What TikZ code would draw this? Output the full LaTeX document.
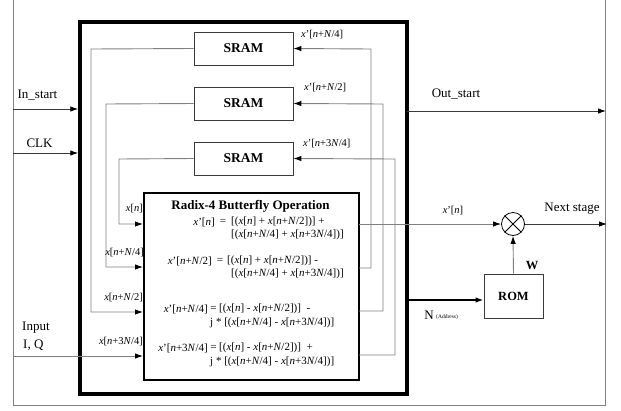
\documentclass[tikz,border=0pt]{standalone}
\usepackage{fontspec}
\setmainfont{Liberation Serif}
\usetikzlibrary{arrows.meta}
\definecolor{lg}{HTML}{808080}
\definecolor{dg}{HTML}{3A3A3A}
\newcommand\iv[1]{\textit{#1}}
\newcommand\myXn{\iv{x}[\iv{n}]}
\newcommand\myXq{\iv{x}[\iv{n}+\iv{N}/4]}
\newcommand\myXh{\iv{x}[\iv{n}+\iv{N}/2]}
\newcommand\myXt{\iv{x}[\iv{n}+3\iv{N}/4]}
\begin{document}
\begin{tikzpicture}[x=1pt,y=-1pt,
  gline/.style={draw=lg,line width=0.9pt},
  dline/.style={draw=dg,line width=0.9pt},
  tip/.style={-{Latex[length=8pt,width=5.5pt,color=black]}},
  srambox/.style={draw=dg,line width=0.8pt,fill=white,minimum width=99pt,minimum height=33pt,inner sep=0pt,font=\fontsize{13.5}{15}\selectfont\bfseries},
  lbl/.style={inner sep=0pt,font=\fontsize{13}{15}\selectfont},
  slbl/.style={inner sep=0pt,font=\fontsize{10.5}{12}\selectfont},
  eq/.style={inner sep=0pt,font=\fontsize{11}{13}\selectfont}]
\useasboundingbox (0,0) rectangle (621,410);
% outer frame
\draw[lg,line width=0.9pt] (13,0) -- (13,405) -- (605,405) -- (605,0);
% main thick box
\node[draw=black,line width=3.5pt,minimum width=327pt,minimum height=372pt,inner sep=0pt] (main) at (243.5,208) {};
% SRAMs
\node[srambox] (s1) at (243.5,48.5) {SRAM};
\node[srambox] (s2) at (243.5,103.5) {SRAM};
\node[srambox] (s3) at (243.5,158.5) {SRAM};
% butterfly box
\node[draw=black,line width=2pt,fill=white,minimum width=215pt,minimum height=187pt,inner sep=0pt] (bf) at (251.5,286.5) {};
% ROM and multiplier
\node[draw=dg,line width=0.8pt,minimum width=59pt,minimum height=44pt,inner sep=0pt,font=\fontsize{12.5}{14}\selectfont\bfseries] (rom) at (513.5,296) {ROM};
\node[draw=black,line width=0.8pt,circle,minimum size=23pt,inner sep=0pt] (mul) at (513,224) {};
\draw[black,line width=0.8pt] (mul.north west) -- (mul.south east) (mul.north east) -- (mul.south west);
% coordinates
\coordinate (a1) at (91,49);  \coordinate (a2) at (91,312);
\coordinate (b1) at (106,104); \coordinate (b2) at (106,267);
\coordinate (c1) at (119,159); \coordinate (c2) at (119,224);
\coordinate (in0) at (13,356);
\coordinate (o2a) at (359,268); \coordinate (o2b) at (371,268); \coordinate (o2c) at (371,49);
\coordinate (o3a) at (359,311); \coordinate (o3b) at (383,311); \coordinate (o3c) at (383,104);
\coordinate (o4a) at (359,355); \coordinate (o4b) at (395,355); \coordinate (o4c) at (395,159);
\coordinate (o1a) at (359,224);
\coordinate (ins0) at (13,109); \coordinate (clk0) at (13,153);
\coordinate (os0) at (407,111); \coordinate (os1) at (606,111);
\coordinate (ns1) at (607,224);
\coordinate (nn0) at (407,300);
% feedback into butterfly
\draw[gline,tip] (s1.west) -- (a1) -- (a2) -- (a2 -| bf.west);
\draw[gline,tip] (s2.west) -- (b1) -- (b2) -- (b2 -| bf.west);
\draw[gline,tip] (s3.west) -- (c1) -- (c2) -- (c2 -| bf.west);
\draw[gline,tip] (in0) -- (in0 -| bf.west);
% outputs back to SRAMs
\draw[gline,tip] (o2a) -- (o2b) -- (o2c) -- (s1.east);
\draw[gline,tip] (o3a) -- (o3b) -- (o3c) -- (s2.east);
\draw[gline,tip] (o4a) -- (o4b) -- (o4c) -- (s3.east);
\draw[gline,tip] (o1a) -- (mul.west);
\draw[dline,tip] (mul.east) -- (ns1);
\draw[gline,tip] (rom.north) -- (mul.south);
\draw[black,line width=1.8pt,tip] (nn0) -- (nn0 -| rom.west);
% control lines
\draw[dline,tip] (ins0) -- (ins0 -| main.west);
\draw[dline,tip] (clk0) -- (clk0 -| main.west);
\draw[dline,tip] (os0) -- (os1);
% labels left
\node[lbl] (tin) at (37.5,95) {In\_start};
\node[lbl] (tclk) at (39.5,143) {CLK};
\node[lbl,anchor=west] (tinp) at (22,328) {Input};
\node[lbl,anchor=west] (tiq) at (23,345) {I, Q};
% right labels
\node[lbl] (tos) at (456,94) {Out\_start};
\node[lbl] (tns) at (572,209) {Next stage};
\node[slbl] (txo) at (453,211) {\iv{x}'[\iv{n}]};
\node[lbl,font=\fontsize{12.5}{14}\selectfont\bfseries] (tw) at (532,265) {W};
\node[lbl,anchor=east] (tN) at (434,315) {N};
\node[inner sep=0pt,anchor=west,font=\fontsize{5.5}{6}\selectfont] (tad) at (436,317) {(Address)};
% SRAM labels
\node[slbl,anchor=west] (l1) at (301,35) {\iv{x}'[\iv{n}+\iv{N}/4]};
\node[slbl,anchor=west] (l2) at (304,88) {\iv{x}'[\iv{n}+\iv{N}/2]};
\node[slbl,anchor=west] (l3) at (303,144) {\iv{x}'[\iv{n}+3\iv{N}/4]};
% butterfly input labels
\node[slbl,anchor=east] (i1) at (143,209) {\myXn};
\node[slbl,anchor=east] (i2) at (144,253) {\myXq};
\node[slbl,anchor=east] (i3) at (143,298) {\myXh};
\node[slbl,anchor=east] (i4) at (143,342) {\myXt};
% butterfly text
\node[inner sep=0pt,font=\fontsize{13}{15}\selectfont\bfseries] (title) at (250.5,206) {Radix-4 Butterfly Operation};
\node[eq,anchor=east] (e1l) at (215,222) {\iv{x}'[\iv{n}]};
\node[eq] (e1e) at (223,222) {=};
\node[eq,anchor=west] (e1r) at (231,222) {[(\myXn{} + \myXh)] +};
\node[eq,anchor=west] (e1b) at (231,235) {[(\myXq{} + \myXt)]};
\node[eq,anchor=east] (e2l) at (212,261) {\iv{x}'[\iv{n}+\iv{N}/2]};
\node[eq] (e2e) at (220,261) {=};
\node[eq,anchor=west] (e2r) at (227,261) {[(\myXn{} + \myXh)] -};
\node[eq,anchor=west] (e2b) at (231,274) {[(\myXq{} + \myXt)]};
\node[eq,anchor=east] (e3l) at (208,309) {\iv{x}'[\iv{n}+\iv{N}/4]};
\node[eq] (e3e) at (213.5,309) {=};
\node[eq,anchor=west] (e3r) at (219,309) {[(\myXn{} - \myXh)]\ \ -};
\node[eq,anchor=west] (e3b) at (210,323) {j * [(\myXq{} - \myXt)]};
\node[eq,anchor=east] (e4l) at (208,348) {\iv{x}'[\iv{n}+3\iv{N}/4]};
\node[eq] (e4e) at (213.5,348) {=};
\node[eq,anchor=west] (e4r) at (219,348) {[(\myXn{} - \myXh)]\ \ +};
\node[eq,anchor=west] (e4b) at (210,362) {j * [(\myXq{} - \myXt)]};
\end{tikzpicture}
\end{document}
